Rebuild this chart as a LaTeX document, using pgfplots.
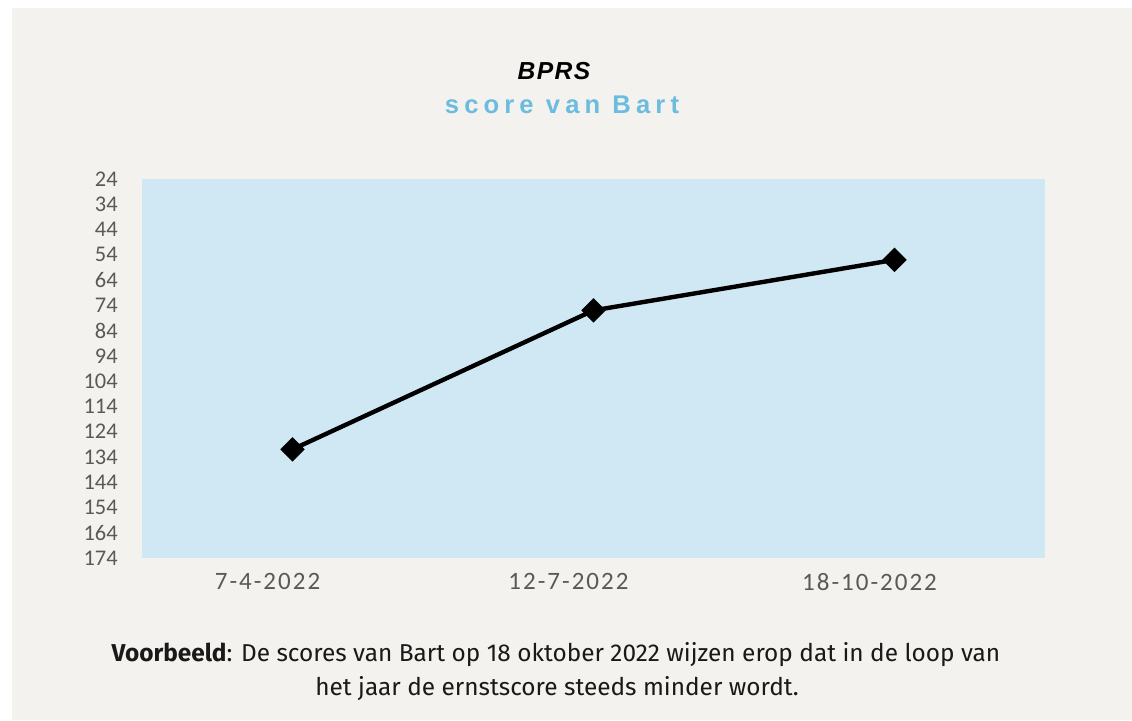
\documentclass[border=0pt]{standalone}
\usepackage{fontspec}
\usepackage{pgfplots}
\pgfplotsset{compat=1.18}
\setmainfont{Carlito}
\newfontfamily\titlefont[LetterSpace=6]{Liberation Sans}
\newfontfamily\subtitlefont[LetterSpace=20]{Liberation Sans}
\newfontfamily\xtickfont[LetterSpace=8]{Carlito}
\newfontfamily\ytickfont{Carlito}
\newfontfamily\notefont{Fira Sans}
\definecolor{bg}{HTML}{F3F2EE}
\definecolor{plotbg}{HTML}{D0E8F4}
\definecolor{titleblue}{HTML}{6CBCE0}
\definecolor{tickgray}{HTML}{595959}
\begin{document}
\begin{tikzpicture}
\useasboundingbox (0,0) rectangle (566pt,-360pt);
\fill[white] (0,0) rectangle (566pt,-360pt);
\fill[bg] (6pt,-4pt) rectangle (566pt,-360pt);
\begin{axis}[
  at={(71pt,-279pt)}, anchor=south west,
  scale only axis, width=451.5pt, height=189.5pt,
  axis background/.style={fill=plotbg},
  axis line style={draw=none},
  y dir=reverse,
  ymin=24, ymax=174, ytick={24,34,...,174},
  xmin=-0.5, xmax=2.5, xtick={0,1,2},
  xticklabels={7-4-2022,12-7-2022,18-10-2022},
  major tick length=0pt,
  tick style={draw=none},
  yticklabel style={font=\ytickfont\fontsize{11.2}{11}\selectfont, text=tickgray, inner sep=0pt},
  yticklabel shift=12pt,
  xticklabel style={font=\xtickfont\fontsize{12.5}{12.5}\selectfont, text=tickgray, inner sep=0pt, xshift=-12.5pt},
  xticklabel shift=7.5pt,
  /pgf/number format/assume math mode=true,
  clip=false,
]
\addplot[black, line width=2.2pt, mark=square*, mark size=3.2pt, mark options={rotate=45, solid, fill=black}] coordinates {(0,131) (1,76) (2,56)};
\end{axis}
\node[anchor=base, font=\titlefont\bfseries\itshape\fontsize{12.3}{12}\selectfont] at (277pt,-39.6pt) {BPRS};
\node[anchor=base, font=\subtitlefont\bfseries\fontsize{12.8}{12}\selectfont, text=titleblue] at (281pt,-56.6pt) {score van Bart};
\node[anchor=base, font=\notefont\fontsize{12.2}{14}\selectfont, text=black!90] at (278pt,-330.5pt) {\textbf{Voorbeeld}: De scores van Bart op 18 oktober 2022 wijzen erop dat in de loop van};
\node[anchor=base, font=\notefont\fontsize{12.2}{14}\selectfont, text=black!90] at (278.5pt,-347.5pt) {het jaar de ernstscore steeds minder wordt.};
\end{tikzpicture}
\end{document}
